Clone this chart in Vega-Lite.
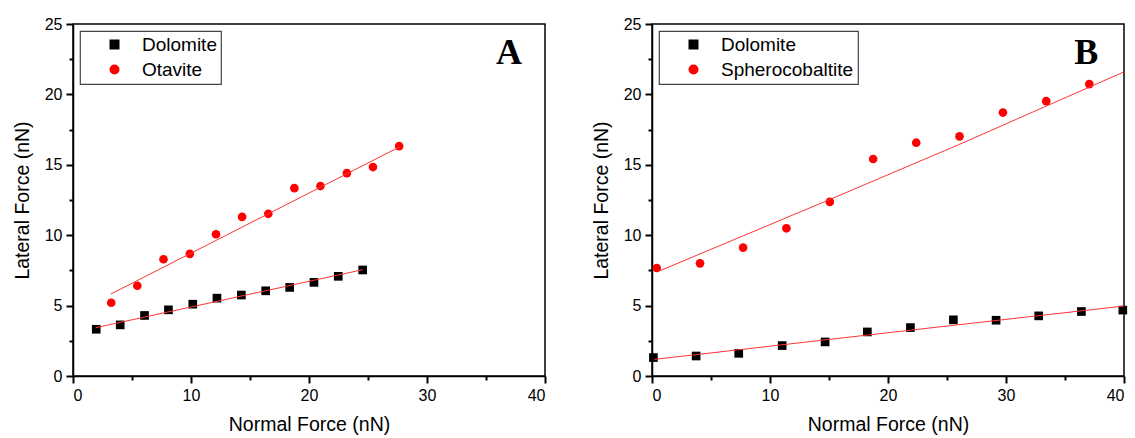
{
  "$schema": "https://vega.github.io/schema/vega-lite/v6.json",
  "padding": {"left": 11, "top": 15, "right": 0, "bottom": 0},
  "spacing": 43,
  "config": {
    "font": "Liberation Sans",
    "view": {"stroke": "#000000", "strokeWidth": 1.5},
    "axis": {
      "domainColor": "#000000", "domainWidth": 1.5,
      "tickColor": "#000000", "tickWidth": 2,
      "labelColor": "#000000", "titleColor": "#000000",
      "labelFont": "Liberation Sans", "titleFont": "Liberation Sans",
      "labelFontSize": 16, "titleFontSize": 19.5, "titleFontWeight": "normal",
      "grid": false, "labelPadding": 4, "labelOverlap": false, "format": "d"
    },
    "legend": {
      "orient": "top-left", "offset": 7,
      "strokeColor": "#444444", "strokeWidth": 1.2, "fillColor": "#ffffff",
      "padding": 4, "rowPadding": 5,
      "labelFont": "Liberation Sans", "labelFontSize": 19, "labelColor": "#000000",
      "symbolOffset": 21, "labelOffset": 18
    }
  },
  "datasets": {
    "a_pts": [
      {"material": "Dolomite", "x": 1.97, "y": 3.32},
      {"material": "Dolomite", "x": 4.0, "y": 3.63},
      {"material": "Dolomite", "x": 6.06, "y": 4.30},
      {"material": "Dolomite", "x": 8.09, "y": 4.70},
      {"material": "Dolomite", "x": 10.15, "y": 5.10},
      {"material": "Dolomite", "x": 12.2, "y": 5.53},
      {"material": "Dolomite", "x": 14.27, "y": 5.75},
      {"material": "Dolomite", "x": 16.33, "y": 6.05},
      {"material": "Dolomite", "x": 18.36, "y": 6.29},
      {"material": "Dolomite", "x": 20.42, "y": 6.65},
      {"material": "Dolomite", "x": 22.48, "y": 7.08},
      {"material": "Dolomite", "x": 24.55, "y": 7.53},
      {"material": "Otavite", "x": 3.24, "y": 5.2},
      {"material": "Otavite", "x": 5.45, "y": 6.41},
      {"material": "Otavite", "x": 7.67, "y": 8.29},
      {"material": "Otavite", "x": 9.9, "y": 8.67},
      {"material": "Otavite", "x": 12.12, "y": 10.07},
      {"material": "Otavite", "x": 14.33, "y": 11.30},
      {"material": "Otavite", "x": 16.55, "y": 11.52},
      {"material": "Otavite", "x": 18.76, "y": 13.34},
      {"material": "Otavite", "x": 20.97, "y": 13.49},
      {"material": "Otavite", "x": 23.21, "y": 14.41},
      {"material": "Otavite", "x": 25.42, "y": 14.84},
      {"material": "Otavite", "x": 27.64, "y": 16.33}
    ],
    "a_fit": [
      {"series": "Dolomite", "x": 1.92, "y": 3.43},
      {"series": "Dolomite", "x": 24.55, "y": 7.55},
      {"series": "Otavite", "x": 3.2, "y": 5.82},
      {"series": "Otavite", "x": 27.65, "y": 16.26}
    ],
    "a_lab": [{"label": "A", "x": 36.95, "y": 22.94}],
    "b_pts": [
      {"material": "Dolomite", "x": 0.12, "y": 1.31},
      {"material": "Dolomite", "x": 3.74, "y": 1.42},
      {"material": "Dolomite", "x": 7.35, "y": 1.61},
      {"material": "Dolomite", "x": 11.03, "y": 2.16},
      {"material": "Dolomite", "x": 14.67, "y": 2.42},
      {"material": "Dolomite", "x": 18.25, "y": 3.13},
      {"material": "Dolomite", "x": 21.9, "y": 3.44},
      {"material": "Dolomite", "x": 25.54, "y": 3.99},
      {"material": "Dolomite", "x": 29.16, "y": 3.96},
      {"material": "Dolomite", "x": 32.77, "y": 4.27},
      {"material": "Dolomite", "x": 36.39, "y": 4.58},
      {"material": "Dolomite", "x": 39.9, "y": 4.68},
      {"material": "Spherocobaltite", "x": 0.4, "y": 7.67},
      {"material": "Spherocobaltite", "x": 4.07, "y": 8.0},
      {"material": "Spherocobaltite", "x": 7.72, "y": 9.12},
      {"material": "Spherocobaltite", "x": 11.39, "y": 10.49},
      {"material": "Spherocobaltite", "x": 15.07, "y": 12.37},
      {"material": "Spherocobaltite", "x": 18.74, "y": 15.41},
      {"material": "Spherocobaltite", "x": 22.39, "y": 16.57},
      {"material": "Spherocobaltite", "x": 26.06, "y": 17.02},
      {"material": "Spherocobaltite", "x": 29.74, "y": 18.71},
      {"material": "Spherocobaltite", "x": 33.41, "y": 19.52},
      {"material": "Spherocobaltite", "x": 37.06, "y": 20.73}
    ],
    "b_fit": [
      {"series": "Dolomite", "x": 0.2, "y": 1.18},
      {"series": "Dolomite", "x": 18.28, "y": 2.91},
      {"series": "Dolomite", "x": 40, "y": 4.97},
      {"series": "Spherocobaltite", "x": 0.48, "y": 7.41},
      {"series": "Spherocobaltite", "x": 15.11, "y": 12.55},
      {"series": "Spherocobaltite", "x": 26.05, "y": 16.45},
      {"series": "Spherocobaltite", "x": 40, "y": 21.6}
    ],
    "b_lab": [{"label": "B", "x": 36.8, "y": 22.94}]
  },
  "resolve": {
    "scale": {"color": "independent", "shape": "independent"},
    "legend": {"color": "independent", "shape": "independent"}
  },
  "hconcat": [
    {
      "width": 472, "height": 352,
      "resolve": {"axis": {"x": "independent", "y": "independent"}},
      "layer": [
        {
          "data": {"name": "a_pts"},
          "mark": {"type": "point", "filled": true, "opacity": 1, "size": 75},
          "encoding": {
            "x": {"field": "x", "type": "quantitative",
              "scale": {"domain": [0, 40], "nice": false},
              "axis": {"title": "Normal Force (nN)", "titlePadding": 12, "orient": "bottom",
                "values": [0, 10, 20, 30, 40], "ticks": true, "tickSize": 7, "tickColor": "#000000", "tickWidth": 2}},
            "y": {"field": "y", "type": "quantitative",
              "scale": {"domain": [0, 25], "nice": false},
              "axis": {"title": "Lateral Force (nN)", "titlePadding": 12, "orient": "left",
                "values": [0, 5, 10, 15, 20, 25], "ticks": true, "tickSize": 7, "tickColor": "#000000", "tickWidth": 2}},
            "color": {"field": "material", "type": "nominal",
              "scale": {"domain": ["Dolomite", "Otavite"], "range": ["#000000", "#ff0000"]},
              "legend": {"title": null}},
            "shape": {"field": "material", "type": "nominal",
              "scale": {"domain": ["Dolomite", "Otavite"], "range": ["square", "circle"]},
              "legend": {"title": null}}
          }
        },
        {
          "data": {"name": "a_fit"},
          "mark": {"type": "line", "color": "#ff3333", "strokeWidth": 1},
          "encoding": {
            "x": {"field": "x", "type": "quantitative",
              "axis": {"title": null, "orient": "bottom", "labels": false, "domain": false,
                "values": [5, 15, 25, 35], "ticks": true, "tickSize": 4, "tickColor": "#000000", "tickWidth": 2}},
            "y": {"field": "y", "type": "quantitative",
              "axis": {"title": null, "orient": "left", "labels": false, "domain": false,
                "values": [2.5, 7.5, 12.5, 17.5, 22.5], "ticks": true, "tickSize": 4, "tickColor": "#000000", "tickWidth": 2}},
            "detail": {"field": "series"}
          }
        },
        {
          "data": {"name": "a_lab"},
          "mark": {"type": "text", "font": "Liberation Serif", "fontWeight": "bold", "fontSize": 36, "color": "#000000"},
          "encoding": {
            "x": {"field": "x", "type": "quantitative", "axis": null},
            "y": {"field": "y", "type": "quantitative", "axis": null},
            "text": {"field": "label"}
          }
        }
      ]
    },
    {
      "width": 472, "height": 352,
      "resolve": {"axis": {"x": "independent", "y": "independent"}},
      "layer": [
        {
          "data": {"name": "b_pts"},
          "mark": {"type": "point", "filled": true, "opacity": 1, "size": 75},
          "encoding": {
            "x": {"field": "x", "type": "quantitative",
              "scale": {"domain": [0, 40], "nice": false},
              "axis": {"title": "Normal Force (nN)", "titlePadding": 12, "orient": "bottom",
                "values": [0, 10, 20, 30, 40], "ticks": true, "tickSize": 7, "tickColor": "#000000", "tickWidth": 2}},
            "y": {"field": "y", "type": "quantitative",
              "scale": {"domain": [0, 25], "nice": false},
              "axis": {"title": "Lateral Force (nN)", "titlePadding": 12, "orient": "left",
                "values": [0, 5, 10, 15, 20, 25], "ticks": true, "tickSize": 7, "tickColor": "#000000", "tickWidth": 2}},
            "color": {"field": "material", "type": "nominal",
              "scale": {"domain": ["Dolomite", "Spherocobaltite"], "range": ["#000000", "#ff0000"]},
              "legend": {"title": null}},
            "shape": {"field": "material", "type": "nominal",
              "scale": {"domain": ["Dolomite", "Spherocobaltite"], "range": ["square", "circle"]},
              "legend": {"title": null}}
          }
        },
        {
          "data": {"name": "b_fit"},
          "mark": {"type": "line", "color": "#ff3333", "strokeWidth": 1},
          "encoding": {
            "x": {"field": "x", "type": "quantitative",
              "axis": {"title": null, "orient": "bottom", "labels": false, "domain": false,
                "values": [5, 15, 25, 35], "ticks": true, "tickSize": 4, "tickColor": "#000000", "tickWidth": 2}},
            "y": {"field": "y", "type": "quantitative",
              "axis": {"title": null, "orient": "left", "labels": false, "domain": false,
                "values": [2.5, 7.5, 12.5, 17.5, 22.5], "ticks": true, "tickSize": 4, "tickColor": "#000000", "tickWidth": 2}},
            "detail": {"field": "series"}
          }
        },
        {
          "data": {"name": "b_lab"},
          "mark": {"type": "text", "font": "Liberation Serif", "fontWeight": "bold", "fontSize": 36, "color": "#000000"},
          "encoding": {
            "x": {"field": "x", "type": "quantitative", "axis": null},
            "y": {"field": "y", "type": "quantitative", "axis": null},
            "text": {"field": "label"}
          }
        }
      ]
    }
  ]
}
